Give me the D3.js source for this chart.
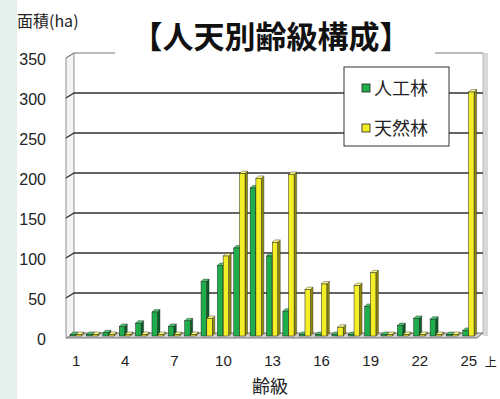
<!DOCTYPE html>
<html>
<head>
<meta charset="utf-8">
<script src="https://cdn.jsdelivr.net/npm/d3@7"></script>
<style>
  body { margin: 0; background: #fff; }
  svg { display: block; }
</style>
</head>
<body>
<div id="chart"></div>
<script>
// age classes 1..25 (25 = 25以上)
var categories = d3.range(1, 26).map(String);
var seriesNames = ["人工林", "天然林"];
// area (ha)
var planted = [0, 2, 4, 12, 16, 30, 12, 19, 68, 88, 110, 185, 100, 31, 2, 0, 2, 0, 37, 1, 13, 22, 21, 0, 7];
var natural = [0, 0, 0, 0, 0, 0, 0, 0, 22, 100, 203, 197, 117, 202, 58, 65, 11, 63, 79, 0, 0, 0, 0, 0, 305];
var yTicks = [0, 50, 100, 150, 200, 250, 300, 350];
var xTickLabels = ["1", "4", "7", "10", "13", "16", "19", "22", "25"];

var width = 500, height = 399;
var jp = "'Noto Sans CJK JP', 'Noto Sans', sans-serif";
var latin = "'Liberation Sans', Arial, sans-serif";

var svg = d3.select('#chart').append('svg')
      .attr('width', width)
      .attr('height', height);

// mint strip on the left edge
svg.append('rect').attr('x', 0).attr('y', 0).attr('width', 17).attr('height', height).attr('fill', '#e3f0eb');

//depth of the 3d box
var dx = 8, dy = 5;
var left = 74, right = 483;

var y = d3.scaleLinear().domain([0, 350]).range([333, 53]);
var x = d3.scaleBand().domain(categories).range([68, 477]);
var xs = d3.scaleBand().domain(seriesNames).range([0, 11.5]).paddingInner(0);

// right side wall
svg.append('rect').attr('x', right).attr('y', y(350)).attr('width', 5).attr('height', y(0) - y(350) + 3)
      .attr('fill', '#d8d8d8');
svg.append('line').attr('x1', right).attr('x2', right).attr('y1', y(350)).attr('y2', y(0))
      .attr('stroke', '#bbb');

// floor
svg.append('path')
      .attr('d', 'M' + left + ',' + y(0) + 'L' + right + ',' + y(0) + 'L' + (right - 6) + ',' + (y(0) + dy) +
            'L' + (left - dx) + ',' + (y(0) + dy) + 'Z')
      .attr('fill', '#cfcfcf').attr('stroke', '#555').attr('stroke-width', 0.8);

// left wall
svg.append('path')
      .attr('d', 'M' + left + ',' + y(350) + 'L' + left + ',' + y(0) + 'L' + (left - dx) + ',' + (y(0) + dy) +
            'L' + (left - dx) + ',' + (y(350) + dy) + 'Z')
      .attr('fill', '#f4f4f4').attr('stroke', '#777').attr('stroke-width', 0.8);

//gridlines
svg.selectAll('.grid').data(yTicks.slice(1)).enter().append('path')
      .attr('class', 'grid')
      .attr('d', function (d) {
            return 'M' + (left - dx) + ',' + (y(d) + dy) + 'L' + left + ',' + y(d) + 'L' + right + ',' + y(d);
      })
      .attr('fill', 'none')
      .attr('stroke', function (d) { return d === 350 ? '#777' : '#333'; })
      .attr('stroke-width', function (d) { return d === 350 ? 1 : 1.4; });

//bars
var colors = {
      "人工林": { front: '#1fae4c', side: '#0b5e27', top: '#4cc873' },
      "天然林": { front: '#f3ee26', side: '#8f8a0c', top: '#fbf78a' }
};
var bw = 5.5, bd = 2.5;
var rows = [];
categories.forEach(function (c, i) {
      rows.push({ cat: c, s: "人工林", v: planted[i] });
      rows.push({ cat: c, s: "天然林", v: natural[i] });
});
var base = y(0) + 3;
var g = svg.selectAll('.bar').data(rows).enter().append('g').attr('class', 'bar')
      .attr('transform', function (d) {
            return 'translate(' + (x(d.cat) + x.bandwidth() / 2 - 6 + xs(d.s)) + ',0)';
      });
g.append('path')
      .attr('d', function (d) {
            var t = Math.min(y(d.v) + 3, base - 1.5);
            return 'M' + bw + ',' + t + 'L' + (bw + bd) + ',' + (t - bd) + 'L' + (bw + bd) + ',' + (base - bd) +
                  'L' + bw + ',' + base + 'Z';
      })
      .attr('fill', function (d) { return colors[d.s].side; })
      .attr('stroke', '#222').attr('stroke-width', 0.4);
g.append('path')
      .attr('d', function (d) {
            var t = Math.min(y(d.v) + 3, base - 1.5);
            return 'M0,' + t + 'L' + bd + ',' + (t - bd) + 'L' + (bw + bd) + ',' + (t - bd) + 'L' + bw + ',' + t + 'Z';
      })
      .attr('fill', function (d) { return colors[d.s].top; })
      .attr('stroke', '#222').attr('stroke-width', 0.4);
g.append('rect')
      .attr('x', 0)
      .attr('y', function (d) { return Math.min(y(d.v) + 3, base - 1.5); })
      .attr('width', bw)
      .attr('height', function (d) { return base - Math.min(y(d.v) + 3, base - 1.5); })
      .attr('fill', function (d) { return colors[d.s].front; })
      .attr('stroke', '#222').attr('stroke-width', 0.5);

// y axis labels
var yAxis = d3.axisLeft(d3.scaleLinear().domain([0, 350]).range([y(0) + 6, y(350) + 6]))
      .tickValues(yTicks).tickSize(0).tickPadding(0);
var ya = svg.append('g').attr('transform', 'translate(46,0)').call(yAxis);
ya.select('.domain').remove();
ya.selectAll('text').attr('font-family', latin).attr('font-size', 16).attr('fill', '#222');

// x axis labels
var xAxis = d3.axisBottom(x).tickValues(xTickLabels).tickSize(0).tickPadding(0);
var xa = svg.append('g').attr('transform', 'translate(0,355)').call(xAxis);
xa.select('.domain').remove();
xa.selectAll('text').attr('font-family', latin).attr('font-size', 15).attr('fill', '#222');
svg.append('text').attr('x', x("25") + x.bandwidth() / 2 + 16).attr('y', 367)
      .attr('font-family', jp).attr('font-size', 12).attr('fill', '#222').text('上');

svg.append('text').attr('x', 270).attr('y', 393).attr('text-anchor', 'middle')
      .attr('font-family', jp).attr('font-size', 18).attr('fill', '#222').text('齢級');

svg.append('text').attr('x', 17).attr('y', 27)
      .attr('font-family', jp).attr('font-size', 16).attr('fill', '#222').text('面積(ha)');

// title with white box covering the top edge
svg.append('rect').attr('x', 115).attr('y', 12).attr('width', 320).attr('height', 46).attr('fill', '#fff');
svg.append('text').attr('x', 271).attr('y', 48).attr('text-anchor', 'middle')
      .attr('font-family', jp).attr('font-weight', 700).attr('font-size', 31).attr('fill', '#111')
      .text('【人天別齢級構成】');

// legend
var lg = svg.append('g').attr('transform', 'translate(344,67)');
lg.append('rect').attr('width', 105).attr('height', 79).attr('fill', '#fff').attr('stroke', '#333').attr('stroke-width', 1);
var li = lg.selectAll('.li').data(seriesNames).enter().append('g')
      .attr('transform', function (d, i) { return 'translate(18,' + (21 + i * 40) + ')'; });
li.append('rect').attr('x', 0).attr('y', -4).attr('width', 8).attr('height', 8)
      .attr('fill', function (d) { return colors[d].front; }).attr('stroke', '#222').attr('stroke-width', 0.8);
li.append('text').attr('x', 12).attr('y', 7)
      .attr('font-family', jp).attr('font-size', 18).attr('fill', '#222').text(function (d) { return d; });
</script>
</body>
</html>
